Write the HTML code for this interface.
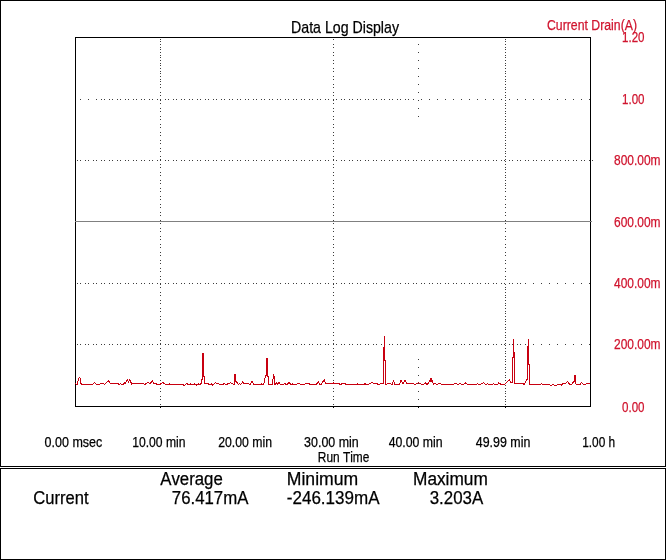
<!DOCTYPE html>
<html><head><meta charset="utf-8"><title>Data Log Display</title>
<style>
html,body{margin:0;padding:0;background:#fff;}
body{width:666px;height:560px;overflow:hidden;}
svg{display:block;font-family:"Liberation Sans",Arial,sans-serif;font-kerning:none;}
text{stroke:currentColor;stroke-width:0.25px;}
</style></head><body>
<svg width="666" height="560" viewBox="0 0 666 560">
<rect x="0" y="0" width="666" height="560" fill="#fff"/>
<g fill="#000" shape-rendering="crispEdges">
<rect x="0" y="0" width="666" height="1"/><rect x="0" y="466" width="666" height="1"/>
<rect x="0" y="0" width="1" height="467"/><rect x="665" y="0" width="1" height="467"/>
<rect x="0" y="468" width="666" height="1"/><rect x="0" y="559" width="666" height="1"/>
<rect x="0" y="468" width="1" height="92"/><rect x="665" y="468" width="1" height="92"/>
<rect x="75" y="37" width="516" height="1"/><rect x="75" y="406" width="516" height="1"/>
<rect x="75" y="37" width="1" height="370"/><rect x="590" y="37" width="1" height="370"/>
<rect x="160" y="407" width="1" height="1"/><rect x="333" y="407" width="1" height="1"/><rect x="418" y="407" width="1" height="1"/><rect x="505" y="407" width="1" height="1"/>
</g>
<path d="M80 99h1v1h-1zM88 99h1v1h-1zM96 99h1v1h-1zM101 99h1v1h-1zM104 99h1v1h-1zM109 99h1v1h-1zM112 99h1v1h-1zM117 99h1v1h-1zM120 99h1v1h-1zM125 99h1v1h-1zM128 99h1v1h-1zM133 99h1v1h-1zM136 99h1v1h-1zM141 99h1v1h-1zM144 99h1v1h-1zM149 99h1v1h-1zM152 99h1v1h-1zM157 99h1v1h-1zM160 99h1v1h-1zM165 99h1v1h-1zM168 99h1v1h-1zM173 99h1v1h-1zM176 99h1v1h-1zM181 99h1v1h-1zM184 99h1v1h-1zM189 99h1v1h-1zM192 99h1v1h-1zM197 99h1v1h-1zM200 99h1v1h-1zM205 99h1v1h-1zM208 99h1v1h-1zM213 99h1v1h-1zM216 99h1v1h-1zM221 99h1v1h-1zM224 99h1v1h-1zM229 99h1v1h-1zM232 99h1v1h-1zM237 99h1v1h-1zM240 99h1v1h-1zM245 99h1v1h-1zM248 99h1v1h-1zM253 99h1v1h-1zM256 99h1v1h-1zM261 99h1v1h-1zM264 99h1v1h-1zM269 99h1v1h-1zM272 99h1v1h-1zM277 99h1v1h-1zM280 99h1v1h-1zM285 99h1v1h-1zM288 99h1v1h-1zM293 99h1v1h-1zM296 99h1v1h-1zM301 99h1v1h-1zM304 99h1v1h-1zM309 99h1v1h-1zM312 99h1v1h-1zM317 99h1v1h-1zM320 99h1v1h-1zM325 99h1v1h-1zM328 99h1v1h-1zM333 99h1v1h-1zM336 99h1v1h-1zM341 99h1v1h-1zM344 99h1v1h-1zM349 99h1v1h-1zM352 99h1v1h-1zM357 99h1v1h-1zM360 99h1v1h-1zM365 99h1v1h-1zM368 99h1v1h-1zM373 99h1v1h-1zM376 99h1v1h-1zM381 99h1v1h-1zM384 99h1v1h-1zM389 99h1v1h-1zM392 99h1v1h-1zM397 99h1v1h-1zM400 99h1v1h-1zM405 99h1v1h-1zM408 99h1v1h-1zM413 99h1v1h-1zM421 99h1v1h-1zM429 99h1v1h-1zM437 99h1v1h-1zM445 99h1v1h-1zM453 99h1v1h-1zM461 99h1v1h-1zM469 99h1v1h-1zM477 99h1v1h-1zM485 99h1v1h-1zM493 99h1v1h-1zM501 99h1v1h-1zM509 99h1v1h-1zM517 99h1v1h-1zM525 99h1v1h-1zM533 99h1v1h-1zM541 99h1v1h-1zM549 99h1v1h-1zM557 99h1v1h-1zM565 99h1v1h-1zM573 99h1v1h-1zM581 99h1v1h-1zM589 99h1v1h-1zM77 160h1v1h-1zM80 160h1v1h-1zM85 160h1v1h-1zM88 160h1v1h-1zM93 160h1v1h-1zM96 160h1v1h-1zM101 160h1v1h-1zM104 160h1v1h-1zM109 160h1v1h-1zM112 160h1v1h-1zM117 160h1v1h-1zM120 160h1v1h-1zM125 160h1v1h-1zM128 160h1v1h-1zM133 160h1v1h-1zM136 160h1v1h-1zM141 160h1v1h-1zM144 160h1v1h-1zM149 160h1v1h-1zM152 160h1v1h-1zM157 160h1v1h-1zM160 160h1v1h-1zM165 160h1v1h-1zM168 160h1v1h-1zM173 160h1v1h-1zM176 160h1v1h-1zM181 160h1v1h-1zM184 160h1v1h-1zM189 160h1v1h-1zM192 160h1v1h-1zM197 160h1v1h-1zM200 160h1v1h-1zM205 160h1v1h-1zM208 160h1v1h-1zM213 160h1v1h-1zM216 160h1v1h-1zM221 160h1v1h-1zM224 160h1v1h-1zM229 160h1v1h-1zM232 160h1v1h-1zM237 160h1v1h-1zM240 160h1v1h-1zM245 160h1v1h-1zM248 160h1v1h-1zM253 160h1v1h-1zM256 160h1v1h-1zM261 160h1v1h-1zM264 160h1v1h-1zM269 160h1v1h-1zM272 160h1v1h-1zM277 160h1v1h-1zM280 160h1v1h-1zM285 160h1v1h-1zM288 160h1v1h-1zM293 160h1v1h-1zM296 160h1v1h-1zM301 160h1v1h-1zM304 160h1v1h-1zM309 160h1v1h-1zM312 160h1v1h-1zM317 160h1v1h-1zM320 160h1v1h-1zM325 160h1v1h-1zM328 160h1v1h-1zM333 160h1v1h-1zM336 160h1v1h-1zM341 160h1v1h-1zM344 160h1v1h-1zM349 160h1v1h-1zM352 160h1v1h-1zM357 160h1v1h-1zM360 160h1v1h-1zM365 160h1v1h-1zM368 160h1v1h-1zM373 160h1v1h-1zM376 160h1v1h-1zM381 160h1v1h-1zM384 160h1v1h-1zM389 160h1v1h-1zM392 160h1v1h-1zM397 160h1v1h-1zM400 160h1v1h-1zM405 160h1v1h-1zM408 160h1v1h-1zM413 160h1v1h-1zM416 160h1v1h-1zM421 160h1v1h-1zM424 160h1v1h-1zM429 160h1v1h-1zM432 160h1v1h-1zM437 160h1v1h-1zM440 160h1v1h-1zM445 160h1v1h-1zM448 160h1v1h-1zM453 160h1v1h-1zM456 160h1v1h-1zM461 160h1v1h-1zM464 160h1v1h-1zM469 160h1v1h-1zM472 160h1v1h-1zM477 160h1v1h-1zM480 160h1v1h-1zM485 160h1v1h-1zM488 160h1v1h-1zM493 160h1v1h-1zM496 160h1v1h-1zM501 160h1v1h-1zM504 160h1v1h-1zM509 160h1v1h-1zM512 160h1v1h-1zM517 160h1v1h-1zM520 160h1v1h-1zM525 160h1v1h-1zM528 160h1v1h-1zM533 160h1v1h-1zM536 160h1v1h-1zM541 160h1v1h-1zM544 160h1v1h-1zM549 160h1v1h-1zM552 160h1v1h-1zM557 160h1v1h-1zM560 160h1v1h-1zM565 160h1v1h-1zM568 160h1v1h-1zM573 160h1v1h-1zM576 160h1v1h-1zM581 160h1v1h-1zM584 160h1v1h-1zM589 160h1v1h-1zM592 160h1v1h-1zM77 283h1v1h-1zM80 283h1v1h-1zM85 283h1v1h-1zM88 283h1v1h-1zM93 283h1v1h-1zM96 283h1v1h-1zM101 283h1v1h-1zM104 283h1v1h-1zM109 283h1v1h-1zM112 283h1v1h-1zM117 283h1v1h-1zM120 283h1v1h-1zM125 283h1v1h-1zM128 283h1v1h-1zM133 283h1v1h-1zM136 283h1v1h-1zM141 283h1v1h-1zM144 283h1v1h-1zM149 283h1v1h-1zM152 283h1v1h-1zM157 283h1v1h-1zM160 283h1v1h-1zM165 283h1v1h-1zM168 283h1v1h-1zM173 283h1v1h-1zM176 283h1v1h-1zM181 283h1v1h-1zM184 283h1v1h-1zM189 283h1v1h-1zM192 283h1v1h-1zM197 283h1v1h-1zM200 283h1v1h-1zM205 283h1v1h-1zM208 283h1v1h-1zM213 283h1v1h-1zM216 283h1v1h-1zM221 283h1v1h-1zM224 283h1v1h-1zM229 283h1v1h-1zM232 283h1v1h-1zM237 283h1v1h-1zM240 283h1v1h-1zM245 283h1v1h-1zM248 283h1v1h-1zM253 283h1v1h-1zM256 283h1v1h-1zM261 283h1v1h-1zM264 283h1v1h-1zM269 283h1v1h-1zM272 283h1v1h-1zM277 283h1v1h-1zM280 283h1v1h-1zM285 283h1v1h-1zM288 283h1v1h-1zM293 283h1v1h-1zM296 283h1v1h-1zM301 283h1v1h-1zM304 283h1v1h-1zM309 283h1v1h-1zM312 283h1v1h-1zM317 283h1v1h-1zM320 283h1v1h-1zM325 283h1v1h-1zM328 283h1v1h-1zM333 283h1v1h-1zM336 283h1v1h-1zM341 283h1v1h-1zM344 283h1v1h-1zM349 283h1v1h-1zM352 283h1v1h-1zM357 283h1v1h-1zM360 283h1v1h-1zM365 283h1v1h-1zM368 283h1v1h-1zM373 283h1v1h-1zM376 283h1v1h-1zM381 283h1v1h-1zM384 283h1v1h-1zM389 283h1v1h-1zM392 283h1v1h-1zM397 283h1v1h-1zM400 283h1v1h-1zM405 283h1v1h-1zM408 283h1v1h-1zM413 283h1v1h-1zM416 283h1v1h-1zM421 283h1v1h-1zM424 283h1v1h-1zM429 283h1v1h-1zM432 283h1v1h-1zM437 283h1v1h-1zM440 283h1v1h-1zM445 283h1v1h-1zM448 283h1v1h-1zM453 283h1v1h-1zM456 283h1v1h-1zM461 283h1v1h-1zM464 283h1v1h-1zM469 283h1v1h-1zM472 283h1v1h-1zM477 283h1v1h-1zM480 283h1v1h-1zM485 283h1v1h-1zM488 283h1v1h-1zM493 283h1v1h-1zM496 283h1v1h-1zM501 283h1v1h-1zM504 283h1v1h-1zM509 283h1v1h-1zM512 283h1v1h-1zM517 283h1v1h-1zM520 283h1v1h-1zM525 283h1v1h-1zM533 283h1v1h-1zM541 283h1v1h-1zM549 283h1v1h-1zM557 283h1v1h-1zM565 283h1v1h-1zM573 283h1v1h-1zM581 283h1v1h-1zM589 283h1v1h-1zM77 344h1v1h-1zM80 344h1v1h-1zM85 344h1v1h-1zM88 344h1v1h-1zM93 344h1v1h-1zM96 344h1v1h-1zM101 344h1v1h-1zM104 344h1v1h-1zM109 344h1v1h-1zM112 344h1v1h-1zM117 344h1v1h-1zM120 344h1v1h-1zM125 344h1v1h-1zM128 344h1v1h-1zM133 344h1v1h-1zM136 344h1v1h-1zM141 344h1v1h-1zM144 344h1v1h-1zM149 344h1v1h-1zM152 344h1v1h-1zM157 344h1v1h-1zM160 344h1v1h-1zM165 344h1v1h-1zM168 344h1v1h-1zM173 344h1v1h-1zM176 344h1v1h-1zM181 344h1v1h-1zM184 344h1v1h-1zM189 344h1v1h-1zM192 344h1v1h-1zM197 344h1v1h-1zM200 344h1v1h-1zM205 344h1v1h-1zM208 344h1v1h-1zM213 344h1v1h-1zM216 344h1v1h-1zM221 344h1v1h-1zM224 344h1v1h-1zM229 344h1v1h-1zM232 344h1v1h-1zM237 344h1v1h-1zM240 344h1v1h-1zM245 344h1v1h-1zM248 344h1v1h-1zM253 344h1v1h-1zM256 344h1v1h-1zM261 344h1v1h-1zM264 344h1v1h-1zM269 344h1v1h-1zM272 344h1v1h-1zM277 344h1v1h-1zM280 344h1v1h-1zM285 344h1v1h-1zM288 344h1v1h-1zM293 344h1v1h-1zM296 344h1v1h-1zM301 344h1v1h-1zM304 344h1v1h-1zM309 344h1v1h-1zM312 344h1v1h-1zM317 344h1v1h-1zM320 344h1v1h-1zM325 344h1v1h-1zM328 344h1v1h-1zM333 344h1v1h-1zM336 344h1v1h-1zM341 344h1v1h-1zM344 344h1v1h-1zM349 344h1v1h-1zM352 344h1v1h-1zM357 344h1v1h-1zM360 344h1v1h-1zM365 344h1v1h-1zM368 344h1v1h-1zM373 344h1v1h-1zM376 344h1v1h-1zM381 344h1v1h-1zM384 344h1v1h-1zM389 344h1v1h-1zM392 344h1v1h-1zM397 344h1v1h-1zM400 344h1v1h-1zM405 344h1v1h-1zM408 344h1v1h-1zM413 344h1v1h-1zM416 344h1v1h-1zM421 344h1v1h-1zM424 344h1v1h-1zM429 344h1v1h-1zM432 344h1v1h-1zM437 344h1v1h-1zM440 344h1v1h-1zM445 344h1v1h-1zM448 344h1v1h-1zM453 344h1v1h-1zM456 344h1v1h-1zM461 344h1v1h-1zM464 344h1v1h-1zM469 344h1v1h-1zM472 344h1v1h-1zM477 344h1v1h-1zM480 344h1v1h-1zM485 344h1v1h-1zM488 344h1v1h-1zM493 344h1v1h-1zM496 344h1v1h-1zM501 344h1v1h-1zM504 344h1v1h-1zM509 344h1v1h-1zM512 344h1v1h-1zM517 344h1v1h-1zM520 344h1v1h-1zM525 344h1v1h-1zM533 344h1v1h-1zM541 344h1v1h-1zM549 344h1v1h-1zM557 344h1v1h-1zM565 344h1v1h-1zM573 344h1v1h-1zM581 344h1v1h-1zM589 344h1v1h-1zM160 39h1v1h-1zM160 41h1v1h-1zM160 44h1v1h-1zM160 47h1v1h-1zM160 49h1v1h-1zM160 52h1v1h-1zM160 55h1v1h-1zM160 57h1v1h-1zM160 60h1v1h-1zM160 63h1v1h-1zM160 65h1v1h-1zM160 68h1v1h-1zM160 71h1v1h-1zM160 73h1v1h-1zM160 76h1v1h-1zM160 79h1v1h-1zM160 81h1v1h-1zM160 84h1v1h-1zM160 87h1v1h-1zM160 92h1v1h-1zM160 95h1v1h-1zM160 100h1v1h-1zM160 103h1v1h-1zM160 108h1v1h-1zM160 111h1v1h-1zM160 116h1v1h-1zM160 119h1v1h-1zM160 124h1v1h-1zM160 127h1v1h-1zM160 132h1v1h-1zM160 135h1v1h-1zM160 140h1v1h-1zM160 143h1v1h-1zM160 148h1v1h-1zM160 151h1v1h-1zM160 156h1v1h-1zM160 159h1v1h-1zM160 164h1v1h-1zM160 167h1v1h-1zM160 172h1v1h-1zM160 175h1v1h-1zM160 180h1v1h-1zM160 183h1v1h-1zM160 188h1v1h-1zM160 191h1v1h-1zM160 196h1v1h-1zM160 199h1v1h-1zM160 204h1v1h-1zM160 207h1v1h-1zM160 212h1v1h-1zM160 215h1v1h-1zM160 220h1v1h-1zM160 223h1v1h-1zM160 228h1v1h-1zM160 231h1v1h-1zM160 236h1v1h-1zM160 239h1v1h-1zM160 244h1v1h-1zM160 247h1v1h-1zM160 252h1v1h-1zM160 255h1v1h-1zM160 260h1v1h-1zM160 263h1v1h-1zM160 268h1v1h-1zM160 271h1v1h-1zM160 276h1v1h-1zM160 279h1v1h-1zM160 284h1v1h-1zM160 287h1v1h-1zM160 292h1v1h-1zM160 295h1v1h-1zM160 300h1v1h-1zM160 303h1v1h-1zM160 308h1v1h-1zM160 311h1v1h-1zM160 316h1v1h-1zM160 319h1v1h-1zM160 324h1v1h-1zM160 327h1v1h-1zM160 332h1v1h-1zM160 335h1v1h-1zM160 340h1v1h-1zM160 343h1v1h-1zM160 348h1v1h-1zM160 351h1v1h-1zM160 356h1v1h-1zM160 359h1v1h-1zM160 364h1v1h-1zM160 367h1v1h-1zM160 372h1v1h-1zM160 375h1v1h-1zM160 380h1v1h-1zM160 383h1v1h-1zM160 388h1v1h-1zM160 391h1v1h-1zM160 396h1v1h-1zM160 399h1v1h-1zM160 404h1v1h-1zM333 39h1v1h-1zM333 44h1v1h-1zM333 47h1v1h-1zM333 52h1v1h-1zM333 55h1v1h-1zM333 60h1v1h-1zM333 63h1v1h-1zM333 68h1v1h-1zM333 71h1v1h-1zM333 76h1v1h-1zM333 79h1v1h-1zM333 84h1v1h-1zM333 87h1v1h-1zM333 92h1v1h-1zM333 95h1v1h-1zM333 100h1v1h-1zM333 103h1v1h-1zM333 108h1v1h-1zM333 111h1v1h-1zM333 116h1v1h-1zM333 119h1v1h-1zM333 124h1v1h-1zM333 127h1v1h-1zM333 132h1v1h-1zM333 135h1v1h-1zM333 140h1v1h-1zM333 143h1v1h-1zM333 148h1v1h-1zM333 151h1v1h-1zM333 156h1v1h-1zM333 159h1v1h-1zM333 164h1v1h-1zM333 167h1v1h-1zM333 172h1v1h-1zM333 175h1v1h-1zM333 180h1v1h-1zM333 183h1v1h-1zM333 188h1v1h-1zM333 191h1v1h-1zM333 196h1v1h-1zM333 199h1v1h-1zM333 204h1v1h-1zM333 207h1v1h-1zM333 212h1v1h-1zM333 215h1v1h-1zM333 220h1v1h-1zM333 223h1v1h-1zM333 228h1v1h-1zM333 231h1v1h-1zM333 236h1v1h-1zM333 239h1v1h-1zM333 244h1v1h-1zM333 247h1v1h-1zM333 252h1v1h-1zM333 255h1v1h-1zM333 260h1v1h-1zM333 263h1v1h-1zM333 268h1v1h-1zM333 271h1v1h-1zM333 276h1v1h-1zM333 279h1v1h-1zM333 284h1v1h-1zM333 287h1v1h-1zM333 292h1v1h-1zM333 295h1v1h-1zM333 300h1v1h-1zM333 303h1v1h-1zM333 308h1v1h-1zM333 311h1v1h-1zM333 316h1v1h-1zM333 319h1v1h-1zM333 324h1v1h-1zM333 327h1v1h-1zM333 332h1v1h-1zM333 335h1v1h-1zM333 340h1v1h-1zM333 343h1v1h-1zM333 348h1v1h-1zM333 351h1v1h-1zM333 356h1v1h-1zM333 359h1v1h-1zM333 364h1v1h-1zM333 367h1v1h-1zM333 372h1v1h-1zM333 375h1v1h-1zM333 380h1v1h-1zM333 383h1v1h-1zM333 388h1v1h-1zM333 391h1v1h-1zM333 396h1v1h-1zM333 399h1v1h-1zM333 404h1v1h-1zM505 39h1v1h-1zM505 41h1v1h-1zM505 44h1v1h-1zM505 47h1v1h-1zM505 49h1v1h-1zM505 52h1v1h-1zM505 55h1v1h-1zM505 57h1v1h-1zM505 60h1v1h-1zM505 63h1v1h-1zM505 65h1v1h-1zM505 68h1v1h-1zM505 71h1v1h-1zM505 73h1v1h-1zM505 76h1v1h-1zM505 79h1v1h-1zM505 81h1v1h-1zM505 84h1v1h-1zM505 87h1v1h-1zM505 89h1v1h-1zM505 92h1v1h-1zM505 95h1v1h-1zM505 97h1v1h-1zM505 100h1v1h-1zM505 103h1v1h-1zM505 105h1v1h-1zM505 108h1v1h-1zM505 111h1v1h-1zM505 113h1v1h-1zM505 116h1v1h-1zM505 119h1v1h-1zM505 121h1v1h-1zM505 124h1v1h-1zM505 127h1v1h-1zM505 129h1v1h-1zM505 132h1v1h-1zM505 135h1v1h-1zM505 137h1v1h-1zM505 140h1v1h-1zM505 143h1v1h-1zM505 145h1v1h-1zM505 148h1v1h-1zM505 151h1v1h-1zM505 153h1v1h-1zM505 156h1v1h-1zM505 159h1v1h-1zM505 161h1v1h-1zM505 164h1v1h-1zM505 167h1v1h-1zM505 169h1v1h-1zM505 172h1v1h-1zM505 175h1v1h-1zM505 177h1v1h-1zM505 180h1v1h-1zM505 183h1v1h-1zM505 185h1v1h-1zM505 188h1v1h-1zM505 191h1v1h-1zM505 196h1v1h-1zM505 199h1v1h-1zM505 204h1v1h-1zM505 207h1v1h-1zM505 212h1v1h-1zM505 215h1v1h-1zM505 220h1v1h-1zM505 223h1v1h-1zM505 228h1v1h-1zM505 231h1v1h-1zM505 236h1v1h-1zM505 239h1v1h-1zM505 244h1v1h-1zM505 247h1v1h-1zM505 252h1v1h-1zM505 255h1v1h-1zM505 260h1v1h-1zM505 263h1v1h-1zM505 268h1v1h-1zM505 271h1v1h-1zM505 276h1v1h-1zM505 279h1v1h-1zM505 284h1v1h-1zM505 287h1v1h-1zM505 289h1v1h-1zM505 292h1v1h-1zM505 295h1v1h-1zM505 297h1v1h-1zM505 300h1v1h-1zM505 303h1v1h-1zM505 305h1v1h-1zM505 308h1v1h-1zM505 311h1v1h-1zM505 313h1v1h-1zM505 316h1v1h-1zM505 319h1v1h-1zM505 321h1v1h-1zM505 324h1v1h-1zM505 327h1v1h-1zM505 329h1v1h-1zM505 332h1v1h-1zM505 335h1v1h-1zM505 337h1v1h-1zM505 340h1v1h-1zM505 343h1v1h-1zM505 345h1v1h-1zM505 348h1v1h-1zM505 351h1v1h-1zM505 353h1v1h-1zM505 356h1v1h-1zM505 359h1v1h-1zM505 361h1v1h-1zM505 364h1v1h-1zM505 367h1v1h-1zM505 369h1v1h-1zM505 372h1v1h-1zM505 375h1v1h-1zM505 377h1v1h-1zM505 380h1v1h-1zM505 383h1v1h-1zM505 385h1v1h-1zM505 388h1v1h-1zM505 391h1v1h-1zM505 393h1v1h-1zM505 396h1v1h-1zM505 399h1v1h-1zM505 401h1v1h-1zM505 404h1v1h-1zM418 44h1v1h-1zM418 52h1v1h-1zM418 60h1v1h-1zM418 68h1v1h-1zM418 76h1v1h-1zM418 84h1v1h-1zM418 92h1v1h-1zM418 100h1v1h-1zM418 108h1v1h-1zM418 116h1v1h-1zM418 359h1v1h-1zM418 367h1v1h-1zM418 375h1v1h-1zM418 383h1v1h-1zM418 391h1v1h-1zM418 399h1v1h-1z" fill="#3c3c3c" shape-rendering="crispEdges"/>
<rect x="75" y="221" width="517" height="1" fill="#808080" shape-rendering="crispEdges"/>
<g fill="#c80010" shape-rendering="crispEdges"><rect x="202" y="353" width="2" height="23"/><rect x="234" y="374" width="2" height="8"/><rect x="266" y="358" width="2" height="18"/><rect x="383" y="347" width="2" height="13"/><rect x="430" y="378" width="2" height="4"/><rect x="513" y="352" width="2" height="6"/><rect x="527" y="346" width="2" height="18"/><rect x="574" y="375" width="2" height="7"/></g>
<polyline points="75.5,383.5 76.5,384.5 77.5,384.5 78.5,378.5 79.5,377.5 80.5,378.5 80.5,382.5 81.5,384.5 92.6,384.5 94.6,382.4 96.6,384.5 99.3,384.5 100.7,383.6 103.8,383.6 104.7,384.5 108.3,380.9 111.0,383.8 117.3,383.5 119.5,384.5 120.5,383.5 121.5,384.5 123.5,384.5 124.5,382.5 125.5,383.5 126.5,380.5 127.5,379.5 128.5,382.5 129.5,379.5 130.5,380.5 131.5,384.5 132.5,383.5 143.5,383.5 144.9,384.7 147.1,382.7 148.9,382.9 150.3,383.6 152.5,380.7 153.6,383.6 156.6,384.0 157.9,384.7 159.7,384.5 162.9,382.7 165.6,384.5 168.7,384.7 169.6,384.0 171.0,384.7 173.2,384.0 174.6,384.7 176.8,384.0 178.6,384.5 183.2,384.9 184.0,385.8 185.9,384.0 187.0,383.6 188.9,385.1 190.9,383.8 192.9,385.1 194.8,383.8 196.8,385.1 198.8,383.8 200.7,384.6 200.5,383.5 201.5,383.5 201.5,379.5 202.5,379.5 202.5,353.5 203.5,353.5 203.5,376.5 204.5,376.5 204.5,383.5 205.5,383.5 207.6,383.6 209.6,384.6 211.5,383.6 212.5,385.1 215.5,382.8 217.4,383.6 220.4,384.4 222.3,384.8 224.3,383.6 226.3,384.6 228.2,383.6 229.5,383.5 230.5,382.5 232.0,383.5 233.5,384.5 234.5,384.5 234.5,374.5 235.5,374.5 236.0,381.5 236.7,381.5 237.3,383.5 238.4,384.5 239.7,383.5 240.8,384.5 241.6,383.5 242.7,381.5 243.3,382.0 244.0,383.5 248.6,383.7 249.9,384.6 252.2,381.0 254.0,384.6 259.8,384.6 261.2,383.7 262.5,384.6 263.5,384.5 264.5,381.5 265.5,375.5 266.5,375.5 266.5,358.5 267.5,358.5 267.5,376.5 268.5,376.5 268.5,384.5 272.5,384.5 273.5,374.5 274.5,377.5 274.5,384.5 275.5,384.5 276.5,382.5 277.8,384.5 279.0,382.5 280.5,384.5 283.2,384.6 285.0,383.7 286.8,384.6 289.1,382.4 290.9,384.6 292.7,383.9 294.1,384.5 295.9,384.6 297.7,383.7 299.5,383.7 300.9,384.6 302.2,384.2 303.6,384.8 304.9,383.9 309.4,383.9 310.8,384.8 312.6,384.8 313.9,384.2 315.3,384.8 317.1,383.6 318.6,381.8 319.8,384.2 320.7,384.8 322.0,383.3 323.4,381.0 324.5,379.7 325.5,383.7 332.8,383.7 333.9,382.8 335.1,383.7 339.1,383.7 340.5,384.8 341.8,383.9 345.5,383.9 346.8,384.8 356.9,384.8 357.5,383.9 358.8,384.8 363.8,384.8 364.8,383.5 366.2,384.8 368.8,384.1 371.9,382.6 373.8,383.5 376.9,383.5 378.8,384.8 380.6,383.5 382.5,383.5 383.5,383.5 383.5,347.5 384.5,347.5 384.5,335.5 384.5,360.5 385.5,360.5 385.5,384.5 386.5,384.5 387.5,383.5 390.0,383.5 391.9,384.8 393.5,380.4 395.0,384.8 397.5,384.8 399.4,384.1 401.2,379.8 403.1,384.1 405.0,380.4 406.9,383.5 406.8,383.8 413.6,383.8 414.9,384.7 416.7,383.8 418.5,382.9 419.9,383.8 421.2,384.0 422.6,384.9 424.4,384.0 425.7,382.9 427.1,384.7 428.9,382.5 429.5,381.5 430.5,378.5 431.5,378.5 432.5,381.5 433.6,384.5 435.0,383.5 436.8,384.5 438.6,383.5 440.6,383.8 441.9,384.7 444.6,384.7 446.0,383.8 447.3,384.7 448.7,384.0 450.0,384.7 452.7,384.7 454.1,383.8 456.4,383.8 457.7,384.7 459.1,383.8 460.4,383.8 461.8,384.7 463.6,384.7 463.5,384.7 465.6,382.8 467.5,384.7 469.3,384.0 471.0,384.9 475.7,384.9 477.4,383.8 479.7,384.7 481.5,383.5 483.8,382.6 485.5,384.7 487.8,383.8 489.6,384.7 493.6,383.8 495.4,384.7 497.7,384.7 498.9,382.8 500.6,384.0 505.2,384.0 506.5,382.5 509.2,379.5 510.7,382.5 511.5,382.5 512.5,382.5 512.5,357.5 513.5,357.5 513.5,338.5 513.5,352.5 514.5,352.5 514.5,383.5 516.5,383.5 522.5,383.5 524.5,384.5 526.5,379.5 527.5,379.5 527.5,346.5 528.5,346.5 528.5,338.5 528.5,364.5 529.5,364.5 529.5,384.5 531.5,384.5 539.8,384.7 541.5,383.5 543.3,384.7 548.0,385.0 548.8,384.0 550.0,385.0 552.1,385.0 552.9,384.0 554.1,385.0 556.9,385.0 557.7,384.0 560.5,384.0 561.5,385.1 562.5,384.0 565.7,383.5 567.5,381.5 569.1,383.5 569.9,384.5 571.9,384.5 573.5,381.5 574.5,381.5 574.5,375.5 575.5,376.5 575.5,383.5 576.6,384.5 580.1,384.5 581.3,382.5 582.5,383.5 583.3,384.5 585.0,385.0 586.2,383.8 590.2,383.8" fill="none" stroke="#c80010" stroke-width="1" stroke-linejoin="miter" stroke-miterlimit="2" shape-rendering="crispEdges"/>
<text x="291" y="32.5" font-size="17" text-anchor="start" fill="#000" color="#000" textLength="108" lengthAdjust="spacingAndGlyphs">Data Log Display</text><text x="547" y="29.5" font-size="14" text-anchor="start" fill="#d0142e" color="#d0142e" stroke-width="0.1" textLength="90" lengthAdjust="spacingAndGlyphs">Current Drain(A)</text><text x="622" y="42" font-size="14" text-anchor="start" fill="#d0142e" color="#d0142e" stroke-width="0.1" textLength="22.5" lengthAdjust="spacingAndGlyphs">1.20</text><text x="622" y="104" font-size="14" text-anchor="start" fill="#d0142e" color="#d0142e" stroke-width="0.1" textLength="22.5" lengthAdjust="spacingAndGlyphs">1.00</text><text x="614" y="165" font-size="14" text-anchor="start" fill="#d0142e" color="#d0142e" stroke-width="0.1" textLength="46.5" lengthAdjust="spacingAndGlyphs">800.00m</text><text x="614" y="226.5" font-size="14" text-anchor="start" fill="#d0142e" color="#d0142e" stroke-width="0.1" textLength="46.5" lengthAdjust="spacingAndGlyphs">600.00m</text><text x="614" y="288" font-size="14" text-anchor="start" fill="#d0142e" color="#d0142e" stroke-width="0.1" textLength="46.5" lengthAdjust="spacingAndGlyphs">400.00m</text><text x="614" y="349" font-size="14" text-anchor="start" fill="#d0142e" color="#d0142e" stroke-width="0.1" textLength="46.5" lengthAdjust="spacingAndGlyphs">200.00m</text><text x="622" y="412" font-size="14" text-anchor="start" fill="#d0142e" color="#d0142e" stroke-width="0.1" textLength="22.5" lengthAdjust="spacingAndGlyphs">0.00</text><text x="44.6" y="447" font-size="14" text-anchor="start" fill="#000" color="#000" textLength="57.7" lengthAdjust="spacingAndGlyphs">0.00 msec</text><text x="132.2" y="447" font-size="14" text-anchor="start" fill="#000" color="#000" textLength="53.3" lengthAdjust="spacingAndGlyphs">10.00 min</text><text x="218.2" y="447" font-size="14" text-anchor="start" fill="#000" color="#000" textLength="53.8" lengthAdjust="spacingAndGlyphs">20.00 min</text><text x="304.1" y="447" font-size="14" text-anchor="start" fill="#000" color="#000" textLength="54.6" lengthAdjust="spacingAndGlyphs">30.00 min</text><text x="388.7" y="447" font-size="14" text-anchor="start" fill="#000" color="#000" textLength="54" lengthAdjust="spacingAndGlyphs">40.00 min</text><text x="475.8" y="447" font-size="14" text-anchor="start" fill="#000" color="#000" textLength="54.5" lengthAdjust="spacingAndGlyphs">49.99 min</text><text x="582.2" y="447" font-size="14" text-anchor="start" fill="#000" color="#000" textLength="33" lengthAdjust="spacingAndGlyphs">1.00 h</text><text x="317.8" y="462.4" font-size="14" text-anchor="start" fill="#000" color="#000" textLength="51.5" lengthAdjust="spacingAndGlyphs">Run Time</text><text x="33.2" y="503.7" font-size="17.5" text-anchor="start" fill="#000" color="#000" textLength="55.3" lengthAdjust="spacingAndGlyphs">Current</text><text x="160.2" y="485" font-size="17.5" text-anchor="start" fill="#000" color="#000" textLength="62.6" lengthAdjust="spacingAndGlyphs">Average</text><text x="171.8" y="503.7" font-size="17.5" text-anchor="start" fill="#000" color="#000" textLength="76.6" lengthAdjust="spacingAndGlyphs">76.417mA</text><text x="286.8" y="485" font-size="17.5" text-anchor="start" fill="#000" color="#000" textLength="71.4" lengthAdjust="spacingAndGlyphs">Minimum</text><text x="286.8" y="503.7" font-size="17.5" text-anchor="start" fill="#000" color="#000" textLength="92.7" lengthAdjust="spacingAndGlyphs">-246.139mA</text><text x="413" y="485" font-size="17.5" text-anchor="start" fill="#000" color="#000" textLength="74.8" lengthAdjust="spacingAndGlyphs">Maximum</text><text x="429.7" y="503.7" font-size="17.5" text-anchor="start" fill="#000" color="#000" textLength="53.5" lengthAdjust="spacingAndGlyphs">3.203A</text>
</svg>
</body></html>
